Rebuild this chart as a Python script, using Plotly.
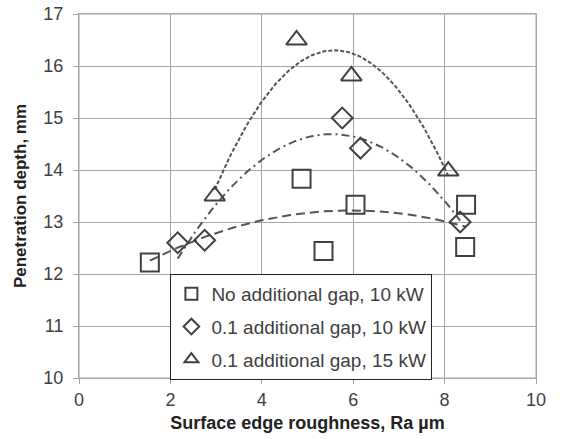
import numpy as np
import plotly.graph_objects as go

# Data
sq_x = [1.55, 4.87, 5.35, 6.05, 8.47, 8.45]
sq_y = [12.22, 13.83, 12.44, 13.33, 13.33, 12.52]
di_x = [2.16, 2.75, 5.76, 6.16, 8.34]
di_y = [12.60, 12.65, 15.00, 14.42, 13.00]
tr_x = [2.97, 4.76, 5.96, 8.08]
tr_y = [13.50, 16.50, 15.81, 13.98]

names = ["No additional gap, 10 kW", "0.1 additional gap, 10 kW", "0.1 additional gap, 15 kW"]
x_ticks = [0, 2, 4, 6, 8, 10]
y_ticks = [10, 11, 12, 13, 14, 15, 16, 17]

MK = "#404040"
FONT = "Liberation Sans, Arial, sans-serif"

fig = go.Figure()

def trend(xs, ys, dash, width=2):
    c = np.polyfit(xs, ys, 2)
    xx = np.linspace(min(xs), max(xs), 100)
    fig.add_trace(go.Scatter(x=xx, y=np.polyval(c, xx), mode="lines",
                             line=dict(color="#555555", width=width, dash=dash),
                             showlegend=False, hoverinfo="skip"))

trend(sq_x, sq_y, "9px,5px")
trend(di_x, di_y, "8px,4px,2px,4px")
trend(tr_x, tr_y, "4px,2px")

series = [(sq_x, sq_y, "square-open", 18), (di_x, di_y, "diamond-open", 16), (tr_x, tr_y, "triangle-up-open", 18)]
for i, (xs, ys, sym, sz) in enumerate(series):
    fig.add_trace(go.Scatter(x=xs, y=ys, mode="markers", name=names[i], legendgroup=str(i),
                             marker=dict(symbol=sym, size=sz, color=MK, line=dict(color=MK, width=2))))

axis_common = dict(showline=True, mirror=True, linecolor="#a6a6a6", linewidth=1,
                   showgrid=True, gridcolor="#a6a6a6", gridwidth=1,
                   ticks="outside", ticklen=5, tickcolor="#a6a6a6", automargin=False,
                   ticklabeloverflow="allow",
                   tickfont=dict(family=FONT, size=18, color="#404040"), zeroline=False)

# plot-area frame
fig.add_shape(type="rect", xref="paper", yref="paper", x0=0, x1=1, y0=0, y1=1,
              line=dict(color="#a6a6a6", width=1), layer="below")

fig.update_layout(
    width=573, height=439,
    margin=dict(l=79, r=37, t=14, b=61),
    plot_bgcolor="white", paper_bgcolor="white",
    font=dict(family=FONT),
    xaxis=dict(range=[0, 10], tickvals=x_ticks,
               title=dict(text="<b>Surface edge roughness, Ra µm</b>", font=dict(family=FONT, size=18, color="#222222"), standoff=7),
               **axis_common),
    yaxis=dict(range=[10, 17], tickvals=y_ticks, ticklabelstandoff=6,
               title=dict(text="<b>Penetration depth, mm</b>", font=dict(family=FONT, size=17, color="#222222"), standoff=12),
               **axis_common),
    legend=dict(x=0.2, xanchor="left", y=0.2857, yanchor="top",
                bgcolor="white", bordercolor="#222222", borderwidth=1,
                font=dict(family=FONT, size=19, color="#404040"),
                traceorder="grouped", tracegroupgap=5, itemsizing="constant",
                itemwidth=30),
)

fig.write_html("out.html", config={"displayModeBar": False},
               post_script="document.body.style.margin='0';")
